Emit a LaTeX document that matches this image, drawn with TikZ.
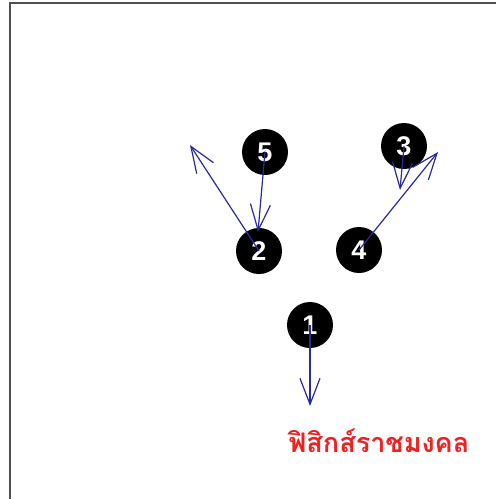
\documentclass[tikz,border=0pt]{standalone}
\usepackage{fontspec}
\setmainfont{Liberation Sans}
\newfontfamily\thaifont[Script=Thai]{Loma}
\usetikzlibrary{arrows.meta}
\definecolor{arrowblue}{HTML}{2A2A9A}
\definecolor{thaired}{HTML}{EE2222}
\definecolor{framegray}{HTML}{505050}
\begin{document}
\begin{tikzpicture}[x=1pt,y=-1pt,
  dot/.style={circle,fill=black,minimum size=46pt,inner sep=0pt,text=white,
    font=\bfseries\fontsize{27}{27}\selectfont},
  vec/.style={draw=arrowblue,line width=1.2pt,
    -{Straight Barb[length=26pt,width=20pt,line width=1.2pt]}},
  frameline/.style={draw=framegray,line width=2.5pt}]
\useasboundingbox (0,0) rectangle (496,499);
\fill[white] (0,0) rectangle (496,499);
\coordinate (fa) at (10,499);
\coordinate (fb) at (10,3);
\coordinate (fc) at (496,3);
\draw[frameline] (fa) -- (fb) -- (fc);

\node[dot] (n5) at (265,152) {5};
\node[dot] (n3) at (404,146) {3};
\node[dot] (n2) at (259,251) {2};
\node[dot] (n4) at (359,250) {4};
\node[dot] (n1) at (310,325) {1};

\coordinate (t5) at (258,232);
\coordinate (t2) at (190,145);
\coordinate (t3) at (400,190);
\coordinate (t4) at (438,152);
\coordinate (t1) at (310,406);

\draw[vec] (n5.center) -- (t5);
\draw[vec] (n2.center) -- (t2);
\draw[vec] (n3.center) -- (t3);
\draw[vec] (n4.center) -- (t4);
\draw[vec] (n1.center) -- (t1);

\node[text=thaired,font=\thaifont\bfseries\fontsize{27}{27}\selectfont,inner sep=0pt] (lbl) at (379,441) {ฟิสิกส์ราชมงคล};
\end{tikzpicture}
\end{document}
